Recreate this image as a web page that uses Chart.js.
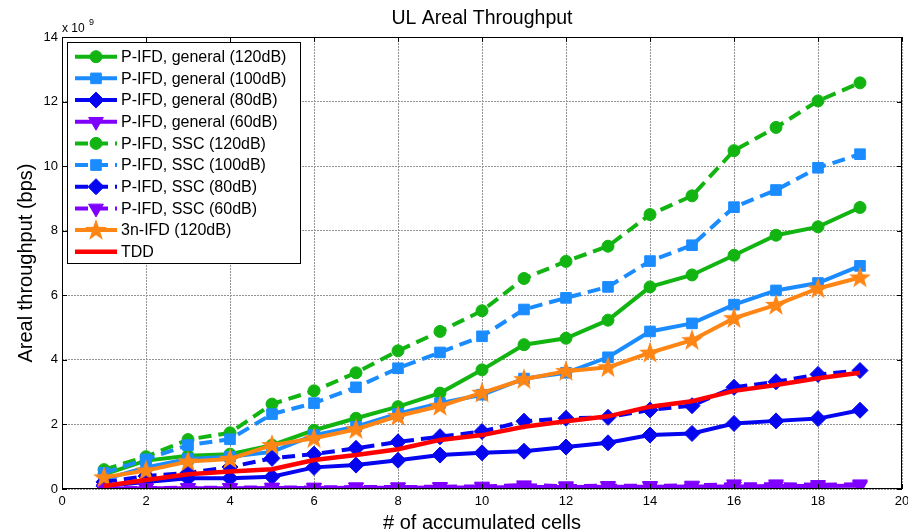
<!DOCTYPE html>
<html>
<head>
<meta charset="utf-8">
<script src="https://cdn.jsdelivr.net/npm/chart.js@4.4.0/dist/chart.umd.min.js"></script>
<style>
  html, body { margin: 0; padding: 0; background: #fff; }
  canvas { display: block; }
</style>
</head>
<body>
<canvas id="chartCanvas" width="908" height="531"></canvas>
<script>
// number of accumulated cells
const cells = [1, 2, 3, 4, 5, 6, 7, 8, 9, 10, 11, 12, 13, 14, 15, 16, 17, 18, 19];

// throughput values, in units of 1e9 bps
const gen120 = [0.45, 0.88, 1.03, 1.08, 1.36, 1.82, 2.19, 2.55, 2.97, 3.69, 4.47, 4.67, 5.23, 6.26, 6.63, 7.24, 7.86, 8.12, 8.72];
const gen100 = [0.30, 0.67, 0.93, 1.00, 1.15, 1.67, 1.93, 2.33, 2.66, 2.92, 3.42, 3.60, 4.08, 4.88, 5.13, 5.71, 6.15, 6.38, 6.91];
const gen80 = [0.09, 0.22, 0.33, 0.33, 0.38, 0.67, 0.74, 0.89, 1.05, 1.12, 1.17, 1.30, 1.43, 1.67, 1.72, 2.03, 2.11, 2.18, 2.44];
const gen60 = [0.01, 0.02, 0.02, 0.02, 0.03, 0.03, 0.04, 0.04, 0.05, 0.05, 0.06, 0.06, 0.07, 0.07, 0.08, 0.08, 0.09, 0.09, 0.10];
const ssc120 = [0.60, 1.00, 1.53, 1.74, 2.63, 3.04, 3.60, 4.28, 4.88, 5.52, 6.52, 7.05, 7.52, 8.50, 9.08, 10.48, 11.20, 12.02, 12.58];
const ssc100 = [0.50, 0.92, 1.36, 1.54, 2.32, 2.66, 3.15, 3.74, 4.23, 4.73, 5.56, 5.92, 6.26, 7.06, 7.55, 8.73, 9.26, 9.95, 10.37];
const ssc80 = [0.22, 0.40, 0.50, 0.68, 0.95, 1.08, 1.26, 1.46, 1.62, 1.78, 2.10, 2.19, 2.22, 2.45, 2.58, 3.15, 3.32, 3.55, 3.67];
const ssc60 = [0.02, 0.03, 0.04, 0.04, 0.05, 0.05, 0.06, 0.06, 0.07, 0.08, 0.12, 0.09, 0.10, 0.10, 0.11, 0.15, 0.15, 0.13, 0.15];
const ifd3n = [0.36, 0.57, 0.85, 0.93, 1.36, 1.57, 1.85, 2.26, 2.57, 2.98, 3.40, 3.65, 3.77, 4.22, 4.61, 5.29, 5.70, 6.21, 6.55];
const tdd = [0.09, 0.28, 0.46, 0.54, 0.61, 0.90, 1.05, 1.23, 1.52, 1.67, 1.93, 2.10, 2.25, 2.55, 2.72, 3.04, 3.22, 3.43, 3.60];

const xTicks = [0, 2, 4, 6, 8, 10, 12, 14, 16, 18, 20];
const yTicks = [0, 2, 4, 6, 8, 10, 12, 14];

const FONT = '"Liberation Sans", Arial, sans-serif';
const GREEN = '#12b412';
const LBLUE = '#1a8cff';
const DBLUE = '#0505f0';
const PURPLE = '#8000ff';
const ORANGE = '#ff8514';
const RED = '#ff0000';
const DASH = [13, 7];

function makeStar(color) {
    const c = document.createElement('canvas');
    c.width = 24;
    c.height = 24;
    const g = c.getContext('2d');
    g.beginPath();
    for (let i = 0; i < 10; i++) {
        const r = i % 2 === 0 ? 11.5 : 4.6;
        const a = -Math.PI / 2 + i * Math.PI / 5;
        g.lineTo(12 + r * Math.cos(a), 12.5 + r * Math.sin(a));
    }
    g.closePath();
    g.fillStyle = color;
    g.fill();
    return c;
}

function series(label, values, color, dash, style, radius, rotation, width) {
    return {
        label: label,
        data: values.map((v, i) => ({x: cells[i], y: v})),
        borderColor: color,
        backgroundColor: color,
        borderWidth: width || 4,
        borderDash: dash,
        pointStyle: style,
        pointRadius: radius,
        pointRotation: rotation || 0,
        pointBackgroundColor: color,
        pointBorderColor: color,
        pointBorderWidth: 1,
        tension: 0
    };
}

const datasets = [
    series('P-IFD, general (120dB)', gen120, GREEN, [], 'circle', 6),
    series('P-IFD, general (100dB)', gen100, LBLUE, [], 'rect', 7.5),
    series('P-IFD, general (80dB)', gen80, DBLUE, [], 'rectRot', 8),
    series('P-IFD, general (60dB)', gen60, PURPLE, [], 'triangle', 8.5, 180),
    series('P-IFD, SSC (120dB)', ssc120, GREEN, DASH, 'circle', 6),
    series('P-IFD, SSC (100dB)', ssc100, LBLUE, DASH, 'rect', 7.5),
    series('P-IFD, SSC (80dB)', ssc80, DBLUE, DASH, 'rectRot', 8),
    series('P-IFD, SSC (60dB)', ssc60, PURPLE, DASH, 'triangle', 8.5, 180),
    series('3n-IFD (120dB)', ifd3n, ORANGE, [], makeStar(ORANGE), 11),
    series('TDD', tdd, RED, [], false, 0, 0, 4.5)
];
// later series on top, like the original plot
datasets.forEach((d, i) => { d.order = datasets.length - i; });

const framePlugin = {
    id: 'frame',
    afterDraw(chart) {
        const ctx = chart.ctx;
        const a = chart.chartArea;
        const xs = chart.scales.x;
        const ys = chart.scales.y;
        ctx.save();
        // box and inner ticks
        ctx.strokeStyle = '#000';
        ctx.lineWidth = 1;
        ctx.strokeRect(a.left + 0.5, a.top + 0.5, a.right - a.left - 1, a.bottom - a.top - 1);
        ctx.beginPath();
        xTicks.forEach((t) => {
            const px = Math.round(xs.getPixelForValue(t)) + 0.5;
            ctx.moveTo(px, a.bottom); ctx.lineTo(px, a.bottom - 5);
            ctx.moveTo(px, a.top); ctx.lineTo(px, a.top + 5);
        });
        yTicks.forEach((t) => {
            const py = Math.round(ys.getPixelForValue(t)) + 0.5;
            ctx.moveTo(a.left, py); ctx.lineTo(a.left + 5, py);
            ctx.moveTo(a.right, py); ctx.lineTo(a.right - 5, py);
        });
        ctx.stroke();

        // title
        ctx.fillStyle = '#000';
        ctx.textAlign = 'center';
        ctx.textBaseline = 'alphabetic';
        ctx.font = '19.5px ' + FONT;
        ctx.fillText('UL Areal Throughput', (a.left + a.right) / 2, 24);

        // exponent label
        ctx.textAlign = 'left';
        ctx.font = '12px ' + FONT;
        ctx.fillText('x 10', a.left, 32);
        ctx.font = '9px ' + FONT;
        ctx.fillText('9', a.left + 27, 25);

        // legend
        const lx = 67, ly = 42, lw = 233, lh = 221;
        ctx.fillStyle = '#fff';
        ctx.fillRect(lx, ly, lw, lh);
        ctx.strokeStyle = '#000';
        ctx.strokeRect(lx + 0.5, ly + 0.5, lw, lh);
        chart.data.datasets.forEach((d, i) => {
            const y = 56.7 + 21.67 * i;
            ctx.strokeStyle = d.borderColor;
            ctx.lineWidth = d.borderWidth;
            ctx.setLineDash(d.borderDash);
            ctx.beginPath();
            ctx.moveTo(75, y);
            ctx.lineTo(117, y);
            ctx.stroke();
            ctx.setLineDash([]);
            if (d.pointStyle) {
                ctx.fillStyle = d.pointBackgroundColor;
                ctx.strokeStyle = d.pointBorderColor;
                ctx.lineWidth = d.pointBorderWidth;
                Chart.helpers.drawPoint(ctx, {
                    pointStyle: d.pointStyle,
                    radius: d.pointRadius,
                    rotation: d.pointRotation,
                    borderWidth: d.pointBorderWidth
                }, 96, y);
            }
            ctx.fillStyle = '#000';
            ctx.font = '16px ' + FONT;
            ctx.textAlign = 'left';
            ctx.textBaseline = 'middle';
            ctx.fillText(d.label, 121, y + 1);
        });
        ctx.restore();
    }
};

new Chart(document.getElementById('chartCanvas').getContext('2d'), {
    type: 'line',
    data: {datasets: datasets},
    options: {
        responsive: false,
        devicePixelRatio: 1,
        animation: false,
        layout: {autoPadding: false, padding: {top: 37, right: 6, left: 0, bottom: 0}},
        plugins: {
            legend: {display: false},
            title: {display: false},
            tooltip: {enabled: false}
        },
        scales: {
            x: {
                type: 'linear',
                min: 0,
                max: 20,
                afterBuildTicks: (s) => { s.ticks = xTicks.map((v) => ({value: v})); },
                ticks: {color: '#000', font: {family: FONT, size: 13}, padding: 5, maxRotation: 0},
                grid: {color: '#939393', lineWidth: 1, drawTicks: false},
                border: {display: false, dash: [2, 1]},
                title: {
                    display: true,
                    text: '# of accumulated cells',
                    color: '#000',
                    font: {family: FONT, size: 20, lineHeight: 0.8},
                    padding: 0
                },
                afterFit: (s) => { s.height = 42; s.paddingLeft = 0; s.paddingRight = 0; }
            },
            y: {
                type: 'linear',
                min: 0,
                max: 14,
                afterBuildTicks: (s) => { s.ticks = yTicks.map((v) => ({value: v})); },
                ticks: {color: '#000', font: {family: FONT, size: 13}, padding: 4},
                grid: {color: '#939393', lineWidth: 1, drawTicks: false},
                border: {display: false, dash: [2, 1]},
                title: {
                    display: true,
                    text: 'Areal throughput (bps)',
                    color: '#000',
                    font: {family: FONT, size: 20, lineHeight: 1.2},
                    padding: {top: 14, bottom: 0}
                },
                afterFit: (s) => { s.width = 62; }
            }
        }
    },
    plugins: [framePlugin]
});
</script>
</body>
</html>
